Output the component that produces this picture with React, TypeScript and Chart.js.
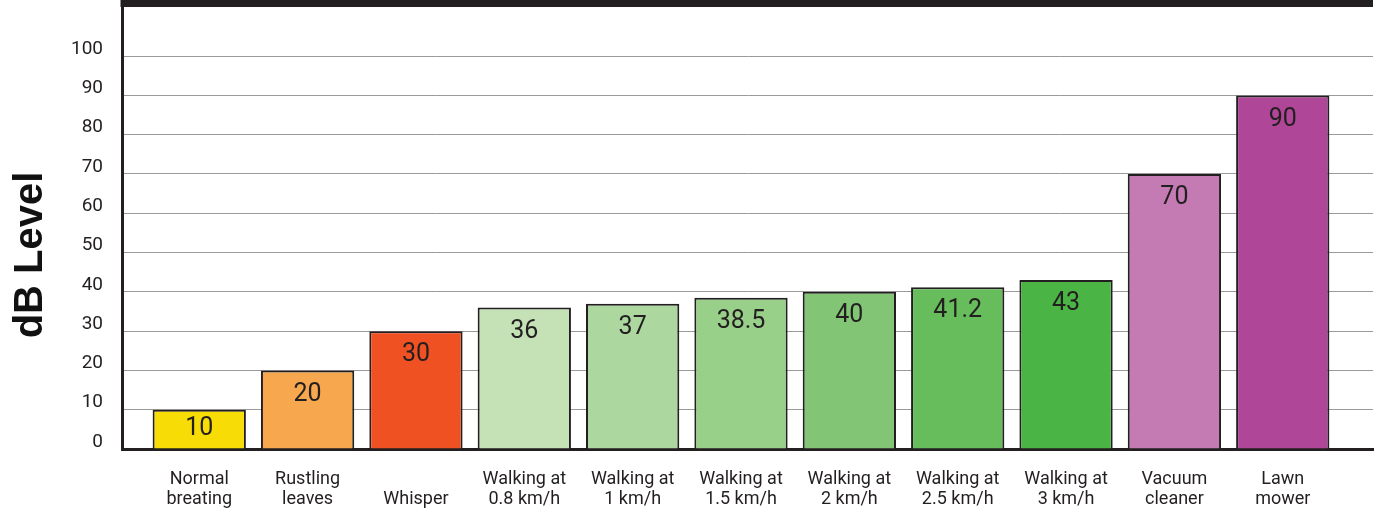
import React, { useEffect, useRef } from 'react';
import { Chart, registerables } from 'chart.js';

Chart.register(...registerables);

const categories = [
  'Normal breating',
  'Rustling leaves',
  'Whisper',
  'Walking at 0.8 km/h',
  'Walking at 1 km/h',
  'Walking at 1.5 km/h',
  'Walking at 2 km/h',
  'Walking at 2.5 km/h',
  'Walking at 3 km/h',
  'Vacuum cleaner',
  'Lawn mower',
];
const tickLabels: string[][] = [
  ['Normal', 'breating'],
  ['Rustling', 'leaves'],
  ['', 'Whisper'],
  ['Walking at', '0.8 km/h'],
  ['Walking at', '1 km/h'],
  ['Walking at', '1.5 km/h'],
  ['Walking at', '2 km/h'],
  ['Walking at', '2.5 km/h'],
  ['Walking at', '3 km/h'],
  ['Vacuum', 'cleaner'],
  ['Lawn', 'mower'],
];
const dbValues = [10, 20, 30, 36, 37, 38.5, 40, 41.2, 43, 70, 90];
const barColors = [
  '#f8dc06',
  '#f7a84f',
  '#f05123',
  '#c4e2b6',
  '#acd8a0',
  '#98cf89',
  '#82c675',
  '#67bd5c',
  '#4ab545',
  '#c47bb4',
  '#b04698',
];
const yTickValues = [0, 10, 20, 30, 40, 50, 60, 70, 80, 90, 100];
const yTitle = 'dB Level';

const INK = '#231f20';
const FONT = 'Roboto, "Liberation Sans", sans-serif';

const framePlugin = {
  id: 'frameAndLabels',
  afterDatasetsDraw(chart: any) {
    const ctx = chart.ctx;
    const meta = chart.getDatasetMeta(0);
    ctx.save();
    ctx.fillStyle = INK;
    ctx.font = `25px ${FONT}`;
    ctx.textAlign = 'center';
    ctx.textBaseline = 'middle';
    meta.data.forEach((bar: any, i: number) => {
      const h = bar.base - bar.y;
      const off = Math.min(24, h / 2);
      ctx.fillText(String(dbValues[i]), bar.x, bar.y + off);
    });
    ctx.restore();
  },
  afterDraw(chart: any) {
    const ctx = chart.ctx;
    const area = chart.chartArea;
    ctx.save();
    ctx.fillStyle = INK;
    ctx.fillRect(area.left - 1.5, 0, area.right - area.left + 1.5, 7);
    ctx.translate(42, 255);
    ctx.rotate(-Math.PI / 2);
    ctx.fillStyle = '#111';
    ctx.font = `bold 40px "Liberation Sans", Arial, sans-serif`;
    ctx.textAlign = 'center';
    ctx.textBaseline = 'alphabetic';
    ctx.fillText(yTitle, 0, 0);
    ctx.restore();
  },
};

export default function App() {
  const canvasRef = useRef<HTMLCanvasElement | null>(null);

  useEffect(() => {
    const canvas = canvasRef.current;
    if (!canvas) return;
    const chart = new Chart(canvas, {
      type: 'bar',
      data: {
        labels: categories,
        datasets: [
          {
            label: yTitle,
            data: dbValues.map((v, i) => ({ x: i, y: v })),
            backgroundColor: barColors,
            borderColor: INK,
            borderWidth: 2,
            borderSkipped: 'bottom',
            barPercentage: 0.861,
            categoryPercentage: 1,
          },
        ],
      },
      options: {
        animation: false,
        responsive: false,
        devicePixelRatio: 1,
        layout: { padding: { left: 0, top: 7, right: 9, bottom: 0 } },
        plugins: {
          legend: { display: false },
          tooltip: { enabled: false },
        },
        scales: {
          x: {
            type: 'linear',
            offset: false,
            min: -0.713,
            max: 10.833,
            z: 1,
            afterFit: (s: any) => {
              s.height = 61;
              s.paddingLeft = 0;
              s.paddingRight = 0;
            },
            afterBuildTicks: (s: any) => {
              s.ticks = categories.map((_, i) => ({ value: i }));
            },
            grid: { display: false, drawTicks: false },
            border: { display: true, width: 3, color: INK },
            ticks: {
              autoSkip: false,
              maxRotation: 0,
              minRotation: 0,
              padding: 21,
              color: INK,
              font: { family: FONT, size: 18, lineHeight: 1.1 },
              callback: (v: any) => tickLabels[Math.round(Number(v))] ?? '',
            },
          },
          y: {
            min: 0,
            max: 112.5,
            afterFit: (s: any) => {
              s.width = 122;
              s.paddingTop = 0;
              s.paddingBottom = 0;
            },
            afterBuildTicks: (s: any) => {
              s.ticks = yTickValues.map((v) => ({ value: v }));
            },
            grid: { color: '#9a9a9a', lineWidth: 1, drawTicks: false },
            border: { display: true, width: 3, color: INK },
            ticks: {
              padding: 19,
              labelOffset: -7,
              color: INK,
              font: { family: FONT, size: 19 },
              callback: (v: any) => String(v),
            },
          },
        },
      },
      plugins: [framePlugin],
    });
    return () => chart.destroy();
  }, []);

  return (
    <div style={{ position: 'absolute', left: 0, top: 0, width: 1382, height: 510, background: '#fff' }}>
      <canvas ref={canvasRef} width={1382} height={510} style={{ display: 'block' }} />
    </div>
  );
}
